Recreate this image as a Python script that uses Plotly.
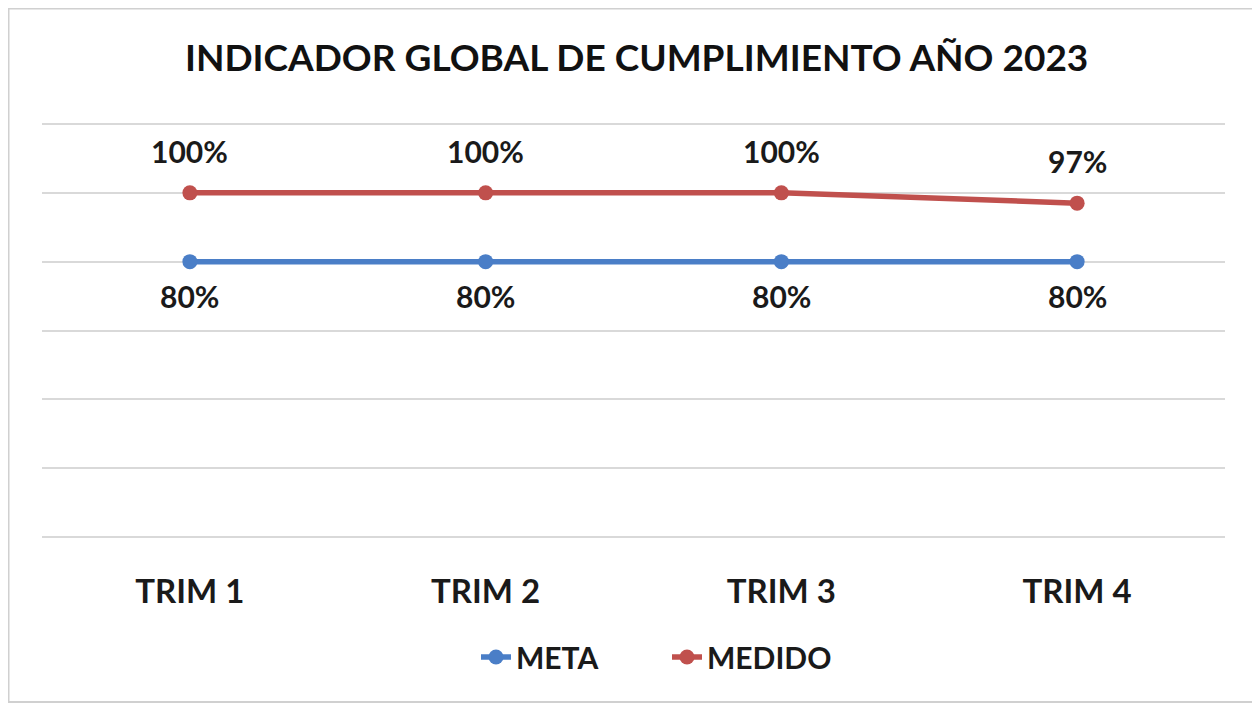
import plotly.graph_objects as go

categories = ["TRIM 1", "TRIM 2", "TRIM 3", "TRIM 4"]
meta = [0.80, 0.80, 0.80, 0.80]
medido = [1.00, 1.00, 1.00, 0.97]
title_text = "INDICADOR GLOBAL DE CUMPLIMIENTO AÑO 2023"

BLUE = "#4A7EC7"
RED = "#C0504D"
FONT = "Lato"
TXT = "#1a1a1a"

# page body has an 8px margin; figure coordinates = screen - 8
OFF = 8
W, H = 1252, 699
px_per_unit = (537 - 124) / 1.2
PAD = 4
pad_val = PAD / px_per_unit
L = 42 - OFF
R = W - (1225 - OFF)
T = 124 - OFF - PAD
B = H - (537 - OFF) - PAD

fig = go.Figure()
fig.add_trace(go.Scatter(x=categories, y=meta, name="META", mode="lines+markers",
                         line=dict(color=BLUE, width=5.5), marker=dict(size=15, color=BLUE)))
fig.add_trace(go.Scatter(x=categories, y=medido, name="MEDIDO", mode="lines+markers",
                         line=dict(color=RED, width=5.5), marker=dict(size=15, color=RED)))

annotations = []
for c, v in zip(categories, meta):
    annotations.append(dict(x=c, y=v, xref="x", yref="y", text=f"{round(v*100)}%",
                            showarrow=False, yshift=-34,
                            font=dict(family=FONT, size=30, color=TXT, weight="bold")))
for c, v in zip(categories, medido):
    annotations.append(dict(x=c, y=v, xref="x", yref="y", text=f"{round(v*100)}%",
                            showarrow=False, yshift=42,
                            font=dict(family=FONT, size=30, color=TXT, weight="bold")))

pw = W - L - R
ph = H - T - B
plot_bottom = H - B
def fx(sx):
    return (sx - OFF - L) / pw
def fy(sy):
    return (plot_bottom - (sy - OFF)) / ph

fig.update_layout(
    width=W, height=H,
    margin=dict(l=L, r=R, t=T, b=B, autoexpand=False),
    paper_bgcolor="white", plot_bgcolor="white",
    title=dict(text=title_text, x=fx(636), xanchor="center", y=1 - (58 - OFF) / H, yanchor="middle",
               font=dict(family=FONT, size=37, color="#111111", weight="bold")),
    xaxis=dict(type="category", range=[-0.5, 3.5], showgrid=False, zeroline=False,
               showline=False, ticks="", ticklabelstandoff=28,
               tickfont=dict(family=FONT, size=33, color=TXT, weight="bold")),
    yaxis=dict(range=[-pad_val, 1.2 + pad_val], tick0=0, dtick=0.2, showgrid=True,
               gridcolor="#D9D9D9", gridwidth=2,
               zeroline=False, showticklabels=False, showline=False, fixedrange=True),
    legend=dict(orientation="h", x=fx(667), xanchor="center", y=fy(657), yanchor="middle",
                font=dict(family=FONT, size=30, color=TXT, weight="bold"),
                entrywidth=146),
    annotations=annotations,
    shapes=[dict(type="rect", xref="paper", yref="paper",
                 x0=fx(8.5), x1=fx(1256), y0=fy(702), y1=fy(8.5),
                 line=dict(color="#D0D0D0", width=2))],
)

fig.write_html("out.html")
